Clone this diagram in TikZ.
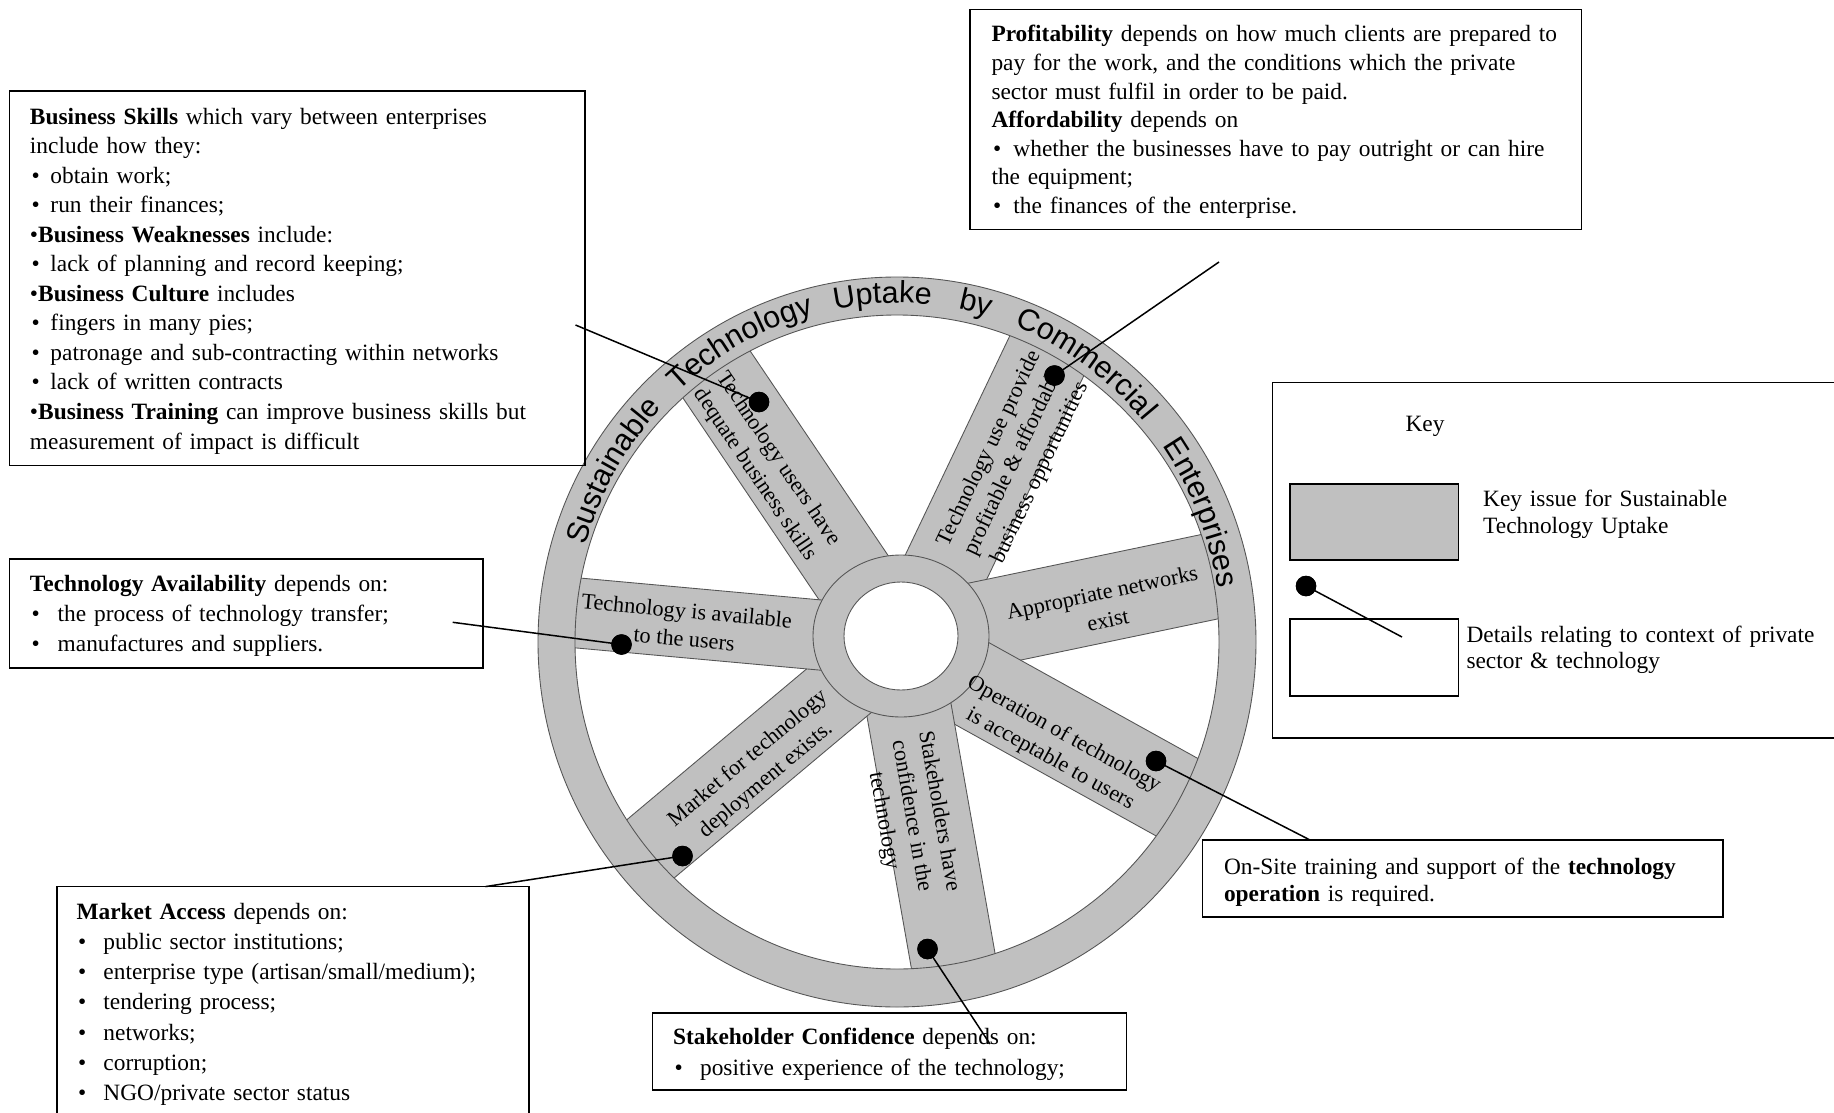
\documentclass[tikz,border=0pt]{standalone}
\usepackage{fontspec}
\setmainfont{Liberation Serif}
\newfontfamily\rimfont{Liberation Sans}
\usetikzlibrary{decorations.text,fit}
\definecolor{wheelgray}{RGB}{192,192,192}
\definecolor{edgegray}{RGB}{85,85,85}
% bullet set in a box of fixed width
\newcommand\blt[1]{\makebox[#1][l]{\hspace{0.6pt}\textbullet}}

\begin{document}
\begin{tikzpicture}[x=0.4pt,y=0.4pt,
  wheelpart/.style={fill=wheelgray, draw=edgegray, line width=0.35pt},
  infobox/.style={draw=black, line width=0.6pt, inner sep=0pt},
  boxtext/.style={anchor=base west, inner sep=0pt, align=left, text width=260pt,
                  font=\fontsize{9.35}{#1}\selectfont},
  spoketext/.style={align=center, inner sep=0pt, font=\fontsize{8.9}{11.2}\selectfont},
  dot/.style={circle, fill=black, inner sep=0pt, minimum size=8.2pt},
  conn/.style={draw=black, line width=0.6pt},
  rimword/.style={decorate, decoration={text along path, text align=center,
                  text={|\rimfont\fontsize{12.2}{14}\selectfont|#1}}}
]
\useasboundingbox (0,0) rectangle (1834,-1113);
\clip (0,0) rectangle (1834,-1113);
\fill[white] (0,0) rectangle (1834,-1113);

% ---------- the wheel ----------
\begin{scope}[shift={(897,-642)}]
  % spokes: angle / width / sideways offset
  \foreach \ang/\wid/\off in {124/82/0, 64.5/84/-12, 11.8/86/0, -29/88/0,
                              -80/85/0, 220/75/0, 174.8/70/0}
    \draw[wheelpart, rotate=\ang] (0,{\off-\wid/2}) rectangle (345,{\off+\wid/2});
  % rim
  \path[wheelpart, even odd rule]
    (0,0) ellipse [x radius=359, y radius=365]
    (0,0) ellipse [x radius=322, y radius=327];
  % hub
  \path[wheelpart] (4,6) ellipse [x radius=88, y radius=81];
  \path[fill=white, draw=edgegray, line width=0.35pt] (4,6) ellipse [x radius=57, y radius=54];
  % lettering round the rim
  \path[rimword=Sustainable] (174.8:325 and 339) arc [start angle=174.8, end angle=124.8, x radius=325, y radius=339];
  \path[rimword=Technology]  (143.4:325 and 339) arc [start angle=143.4, end angle=93.4, x radius=325, y radius=339];
  \path[rimword=Uptake]      (117.5:325 and 339) arc [start angle=117.5, end angle=67.5, x radius=325, y radius=339];
  \path[rimword=by]          (101.4:325 and 339) arc [start angle=101.4, end angle=51.4, x radius=325, y radius=339];
  \path[rimword=Commercial]  (79.9:325 and 339) arc [start angle=79.9, end angle=29.9, x radius=325, y radius=339];
  \path[rimword=Enterprises] (47.3:325 and 339) arc [start angle=47.3, end angle=-2.7, x radius=325, y radius=339];
\end{scope}

% ---------- spoke captions ----------
\node[spoketext, rotate=-56]  (t1) at (766.5,-467) {Technology users have\\dequate business skills};
\node[spoketext, rotate=64.5] (t2) at (1015,-461) {Technology use provide\\profitable \& affordable\\business opportunities};
\node[spoketext, rotate=11.8] (t3) at (1105,-606) {Appropriate networks\\exist};
\node[spoketext, rotate=-29]  (t4) at (1057,-747) {Operation of technology\\is acceptable to users};
\node[spoketext, rotate=-80]  (t5) at (911,-816) {Stakeholders have\\confidence in the\\technology};
\node[spoketext, rotate=40]   (t6) at (757,-769.5) {Market for technology\\deployment exists.};
\node[spoketext, rotate=-5.2] (t7) at (685.5,-624.7) {Technology is available\\to the users};

% ---------- detail boxes ----------
\node[infobox, fit={(9.4,-91.2)(585,-465.5)}] (skills) {};
\node[boxtext=11.82pt] (skillstext) at (29.5,-124) {%
  \textbf{Business Skills} which vary between enterprises\\
  include how they:\\
  \blt{8.2pt}obtain work;\\
  \blt{8.2pt}run their finances;\\
  \textbullet\textbf{Business Weaknesses} include:\\
  \blt{8.2pt}lack of planning and record keeping;\\
  \textbullet\textbf{Business Culture} includes\\
  \blt{8.2pt}fingers in many pies;\\
  \blt{8.2pt}patronage and sub-contracting within networks\\
  \blt{8.2pt}lack of written contracts\\
  \textbullet\textbf{Business Training} can improve business skills but\\
  measurement of impact is difficult};

\node[infobox, fit={(970,-9.4)(1581.5,-229.3)}] (profit) {};
\node[boxtext=11.4pt] (profittext) at (991,-42) {%
  \textbf{Profitability} depends on how much clients are prepared to\\
  pay for the work, and the conditions which the private\\
  sector must fulfil in order to be paid.\\
  \textbf{Affordability} depends on\\
  \blt{8.8pt}whether the businesses have to pay outright or can hire\\
  the equipment;\\
  \blt{8.8pt}the finances of the enterprise.};

\node[infobox, fit={(9.4,-559)(483,-668)}] (avail) {};
\node[boxtext=12.1pt] (availtext) at (29.5,-591) {%
  \textbf{Technology Availability} depends on:\\
  \blt{11.1pt}the process of technology transfer;\\
  \blt{11.1pt}manufactures and suppliers.};

\node[infobox, fit={(57,-886.6)(529,-1130)}] (market) {};
\node[boxtext=12.12pt] (markettext) at (76,-919) {%
  \textbf{Market Access} depends on:\\
  \blt{10.8pt}public sector institutions;\\
  \blt{10.8pt}enterprise type (artisan/small/medium);\\
  \blt{10.8pt}tendering process;\\
  \blt{10.8pt}networks;\\
  \blt{10.8pt}corruption;\\
  \blt{10.8pt}NGO/private sector status};

\node[infobox, fit={(652.7,-1013)(1126.4,-1090)}] (stake) {};
\node[boxtext=12.2pt] (staketext) at (672.6,-1044.5) {%
  \textbf{Stakeholder Confidence} depends on:\\
  \blt{10.8pt}positive experience of the technology;};

\node[infobox, fit={(1202.5,-840)(1723,-917)}] (onsite) {};
\node[boxtext=10.8pt] (onsitetext) at (1223.5,-874) {%
  On-Site training and support of the \textbf{technology}\\
  \textbf{operation} is required.};

% ---------- key ----------
\node[infobox, fit={(1272.6,-382.5)(1850,-738)}] (keybox) {};
\node[anchor=base, inner sep=0pt, font=\fontsize{9.35}{11}\selectfont] (keytitle) at (1425,-431) {Key};
\node[infobox, fill=wheelgray, fit={(1290,-484)(1458.6,-560)}] (keygray) {};
\node[infobox, fit={(1290,-619)(1458.6,-696)}] (keywhite) {};
\node[boxtext=10.9pt] (keyissue) at (1482.7,-506.7) {Key issue for Sustainable\\Technology Uptake};
\node[boxtext=10.5pt] (keydetail) at (1466,-642.7) {Details relating to context of private\\sector \& technology};

% ---------- connectors ----------
\coordinate (c1) at (575.5,-325);
\coordinate (c2) at (1219,-262);
\coordinate (c3) at (452.7,-622.3);
\coordinate (c4) at (485.4,-886.6);
\coordinate (c5) at (990,-1044);
\coordinate (c6) at (1310,-840);
\coordinate (kc) at (1402,-637);

\node[dot] (d1) at (759,-402) {};
\node[dot] (d2) at (1054.5,-375.5) {};
\node[dot] (d3) at (621.5,-644.5) {};
\node[dot] (d4) at (682.5,-856) {};
\node[dot] (d5) at (927.5,-949) {};
\node[dot] (d6) at (1156,-761) {};
\node[dot] (kdot) at (1306,-586) {};

\draw[conn] (c1) -- (d1.center);
\draw[conn] (c2) -- (d2.center);
\draw[conn] (c3) -- (d3.center);
\draw[conn] (c4) -- (d4.center);
\draw[conn] (c5) -- (d5.center);
\draw[conn] (c6) -- (d6.center);
\draw[conn] (kc) -- (kdot.center);

% dots on top of their lines
\foreach \d in {d1,d2,d3,d4,d5,d6,kdot}
  \fill[black] (\d) circle [radius=4.1pt];
\end{tikzpicture}
\end{document}
